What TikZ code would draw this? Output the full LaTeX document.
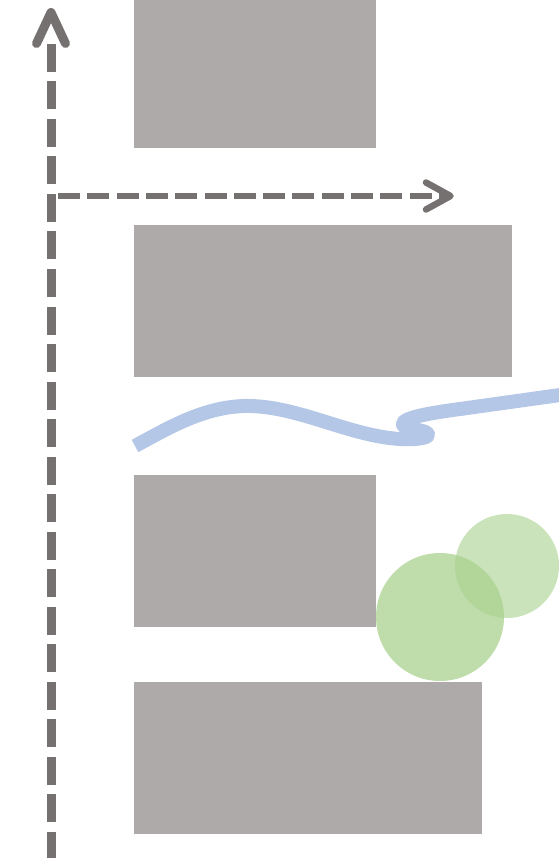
\documentclass[tikz,border=0pt]{standalone}
\definecolor{boxgray}{HTML}{AEAAAA}
\definecolor{axisgray}{HTML}{767171}
\definecolor{waveblue}{HTML}{B4C7E7}
\definecolor{leafgreen}{HTML}{A9D18E}
\begin{document}
\begin{tikzpicture}[x=1pt,y=-1pt,
  block/.style={fill=boxgray,draw=none},
  vaxis/.style={draw=axisgray,line width=9pt,dash pattern=on 28pt off 9.5pt},
  haxis/.style={draw=axisgray,line width=6.5pt,dash pattern=on 22pt off 7.3pt},
  headv/.style={draw=axisgray,line width=9pt,line cap=round,line join=round},
  headh/.style={draw=axisgray,line width=6.5pt,line cap=round,line join=round},
  wave/.style={draw=waveblue,line width=14pt,line join=round},
  blob/.style={fill=leafgreen,draw=none}]
\useasboundingbox (0,0) rectangle (558,858);
% blocks
\fill[block] (134,0) rectangle (376,148);
\fill[block] (134,225) rectangle (512,377);
\fill[block] (134,475) rectangle (376,627);
\fill[block] (134,682) rectangle (482,834);
% axes
\coordinate (vtop) at (51,44);
\coordinate (vbot) at (51,858);
\coordinate (vtip) at (51,12.5);
\draw[vaxis] (vtop) -- (vbot);
\draw[headv] (36.5,43.5) -- (vtip) -- (65.5,43.5);
\coordinate (hstart) at (58,196);
\coordinate (htip) at (450.5,196);
\draw[haxis] (hstart) -- (htip);
\draw[headh] (426,182.5) -- (htip) -- (426,209.5);
% wave
\draw[wave] (135,446) .. controls (165,430) and (205,405) .. (250,406)
  .. controls (300,407) and (350,436) .. (400,439)
  .. controls (420,440) and (430,437) .. (428,434)
  .. controls (425,429) and (405,430) .. (403,425)
  .. controls (400,418) and (430,413) .. (460,409) -- (560,395);
% circles
\fill[blob,fill opacity=0.75] (440,617) circle (64);
\fill[blob,fill opacity=0.6] (507,566) circle (52);
\end{tikzpicture}
\end{document}
